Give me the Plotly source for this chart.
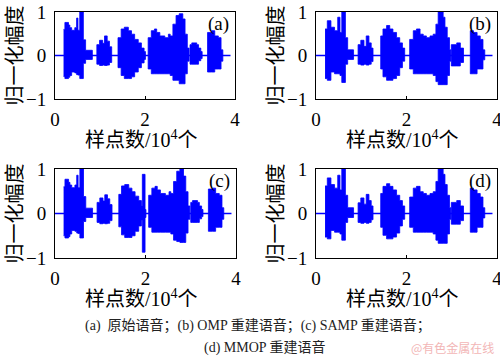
import plotly.graph_objects as go

# ---------------- data (x in units of 10^4 samples, envelope breakpoints) ----------------
x_ticks = [0, 2, 4]
y_ticks = [-1, 0, 1]
y_tick_text = ["\u22121", "0", "1"]
baseline_x = [0.0, 3.9]
baseline_y = [0.0, 0.0]

# (a) original speech
a_x = [0.19, 0.22, 0.30, 0.33, 0.37, 0.44, 0.48, 0.51, 0.55, 0.63, 0.68, 0.83,
       0.93, 0.99, 1.06, 1.10, 1.16, 1.21, 1.26,
       1.40, 1.47, 1.54, 1.63, 1.70, 1.77, 1.85, 1.92, 1.98, 2.01,
       2.07, 2.14, 2.21, 2.26, 2.33, 2.44, 2.52, 2.56, 2.62, 2.69, 2.76, 2.84, 2.89, 2.94, 2.98,
       3.00, 3.04, 3.15, 3.19, 3.24, 3.27,
       3.39, 3.48, 3.55, 3.63, 3.69, 3.73]
a_up = [0.60, 0.76, 0.70, 0.64, 0.58, 0.64, 0.86, 0.58, 1.00, 0.36, 0.12, 0.0,
        0.25, 0.35, 0.28, 0.45, 0.33, 0.20, 0.0,
        0.41, 0.61, 0.65, 0.57, 0.49, 0.37, 0.29, 0.17, 0.09, 0.0,
        0.41, 0.57, 0.61, 0.53, 0.45, 0.41, 0.49, 0.45, 0.72, 0.92, 0.96, 0.84, 0.49, 0.17, 0.0,
        0.25, 0.29, 0.25, 0.17, 0.09, 0.0,
        0.53, 0.57, 0.45, 0.41, 0.13, 0.0]
a_lo = [-0.48, -0.53, -0.50, -0.46, -0.38, -0.40, -0.44, -0.45, -0.53, -0.18, -0.09, 0.0,
        -0.20, -0.23, -0.22, -0.23, -0.22, -0.16, 0.0,
        -0.28, -0.46, -0.53, -0.53, -0.49, -0.38, -0.28, -0.17, -0.09, 0.0,
        -0.31, -0.42, -0.42, -0.42, -0.42, -0.42, -0.42, -0.46, -0.57, -0.57, -0.65, -0.65, -0.42, -0.13, 0.0,
        -0.20, -0.20, -0.20, -0.12, -0.07, 0.0,
        -0.38, -0.38, -0.31, -0.31, -0.13, 0.0]

# (b) OMP reconstruction
b_x = [0.20, 0.25, 0.33, 0.41, 0.48, 0.53, 0.57, 0.65, 0.70, 0.83,
       0.93, 0.99, 1.06, 1.11, 1.17, 1.22, 1.26,
       1.43, 1.48, 1.56, 1.63, 1.70, 1.78, 1.85, 1.91, 1.96,
       2.07, 2.15, 2.22, 2.30, 2.37, 2.44, 2.52, 2.59, 2.65, 2.70, 2.81, 2.85, 2.90, 2.95, 2.98,
       2.99, 3.11, 3.19, 3.26,
       3.41, 3.48, 3.56, 3.63, 3.69, 3.73]
b_up = [0.61, 0.80, 0.65, 0.57, 0.88, 0.53, 1.00, 0.41, 0.13, 0.0,
        0.25, 0.35, 0.21, 0.45, 0.29, 0.17, 0.0,
        0.45, 0.61, 0.69, 0.61, 0.53, 0.41, 0.29, 0.17, 0.0,
        0.37, 0.57, 0.61, 0.49, 0.45, 0.41, 0.45, 0.49, 0.72, 1.00, 0.88, 0.65, 0.41, 0.13, 0.0,
        0.25, 0.29, 0.17, 0.0,
        0.57, 0.53, 0.45, 0.37, 0.13, 0.0]
b_lo = [-0.53, -0.57, -0.38, -0.42, -0.42, -0.46, -0.62, -0.20, -0.09, 0.0,
        -0.20, -0.22, -0.20, -0.22, -0.20, -0.14, 0.0,
        -0.31, -0.49, -0.57, -0.57, -0.53, -0.46, -0.28, -0.13, 0.0,
        -0.31, -0.42, -0.42, -0.42, -0.42, -0.42, -0.42, -0.46, -0.60, -0.67, -0.67, -0.67, -0.46, -0.13, 0.0,
        -0.24, -0.24, -0.16, 0.0,
        -0.42, -0.42, -0.31, -0.31, -0.10, 0.0]

# (c) SAMP reconstruction
c_x = [0.19, 0.22, 0.30, 0.33, 0.37, 0.44, 0.48, 0.51, 0.55, 0.63, 0.68, 0.83,
       0.93, 0.99, 1.06, 1.10, 1.16, 1.21, 1.26,
       1.41, 1.47, 1.54, 1.63, 1.70, 1.77, 1.85, 1.91, 1.93, 1.99, 2.01,
       2.07, 2.14, 2.21, 2.26, 2.33, 2.44, 2.52, 2.56, 2.62, 2.69, 2.76, 2.84, 2.89, 2.94, 2.98,
       3.00, 3.04, 3.15, 3.19, 3.24, 3.27,
       3.39, 3.48, 3.55, 3.63, 3.69, 3.73]
c_up = [0.60, 0.77, 0.70, 0.64, 0.58, 0.64, 0.86, 0.58, 1.00, 0.38, 0.12, 0.0,
        0.25, 0.35, 0.28, 0.42, 0.33, 0.20, 0.0,
        0.43, 0.62, 0.65, 0.57, 0.49, 0.39, 0.29, 0.17, 0.88, 0.09, 0.0,
        0.41, 0.57, 0.61, 0.53, 0.45, 0.41, 0.49, 0.45, 0.72, 0.95, 1.00, 0.84, 0.49, 0.17, 0.0,
        0.25, 0.29, 0.25, 0.17, 0.09, 0.0,
        0.55, 0.57, 0.45, 0.41, 0.13, 0.0]
c_lo = [-0.50, -0.55, -0.52, -0.46, -0.38, -0.40, -0.44, -0.45, -0.55, -0.18, -0.09, 0.0,
        -0.20, -0.23, -0.22, -0.23, -0.22, -0.16, 0.0,
        -0.30, -0.48, -0.54, -0.54, -0.50, -0.40, -0.28, -0.15, -0.87, -0.09, 0.0,
        -0.31, -0.42, -0.42, -0.42, -0.42, -0.42, -0.42, -0.46, -0.60, -0.63, -0.65, -0.65, -0.44, -0.13, 0.0,
        -0.20, -0.20, -0.20, -0.12, -0.07, 0.0,
        -0.40, -0.40, -0.31, -0.31, -0.13, 0.0]

# (d) MMOP reconstruction
d_x = [0.20, 0.25, 0.33, 0.41, 0.48, 0.53, 0.57, 0.65, 0.70, 0.83,
       0.93, 0.99, 1.06, 1.11, 1.17, 1.22, 1.26,
       1.43, 1.48, 1.56, 1.63, 1.70, 1.78, 1.85, 1.91, 1.96,
       2.07, 2.15, 2.22, 2.30, 2.37, 2.44, 2.52, 2.59, 2.65, 2.70, 2.81, 2.85, 2.90, 2.95, 2.98,
       2.99, 3.11, 3.19, 3.26,
       3.41, 3.48, 3.56, 3.63, 3.69, 3.73]
d_up = [0.62, 0.80, 0.65, 0.57, 0.86, 0.53, 1.00, 0.41, 0.13, 0.0,
        0.24, 0.35, 0.21, 0.43, 0.29, 0.17, 0.0,
        0.45, 0.61, 0.67, 0.61, 0.53, 0.41, 0.29, 0.17, 0.0,
        0.37, 0.57, 0.61, 0.49, 0.45, 0.41, 0.45, 0.49, 0.72, 1.00, 0.88, 0.65, 0.41, 0.13, 0.0,
        0.25, 0.29, 0.17, 0.0,
        0.57, 0.53, 0.45, 0.37, 0.13, 0.0]
d_lo = [-0.53, -0.57, -0.38, -0.42, -0.42, -0.46, -0.60, -0.20, -0.09, 0.0,
        -0.20, -0.22, -0.20, -0.22, -0.20, -0.14, 0.0,
        -0.31, -0.49, -0.57, -0.57, -0.53, -0.44, -0.28, -0.13, 0.0,
        -0.31, -0.42, -0.42, -0.42, -0.42, -0.42, -0.42, -0.46, -0.60, -0.67, -0.67, -0.67, -0.46, -0.13, 0.0,
        -0.24, -0.24, -0.16, 0.0,
        -0.42, -0.42, -0.31, -0.31, -0.10, 0.0]

panel_labels = ["(a)", "(b)", "(c)", "(d)"]
x_title = "样点数/10<sup>4</sup>个"
y_title = "归一化幅度"
caption_line1 = "(a)  原始语音；(b) OMP 重建语音；(c) SAMP 重建语音；"
caption_line2 = "(d) MMOP 重建语音"
watermark = "@有色金属在线"

# ---------------- layout / style ----------------
W, H = 500, 359
BLUE = "#0000FF"
SERIF = "Liberation Serif, Noto Sans CJK SC, serif"
CJK = "Noto Sans CJK SC, sans-serif"

# plot boxes in pixels: (left, right, top, bottom)
boxes = [(55, 235, 12, 99), (316, 497, 12, 99), (55, 236, 169, 258), (316, 497, 169, 258)]
series = [(a_x, a_up, a_lo), (b_x, b_up, b_lo), (c_x, c_up, c_lo), (d_x, d_up, d_lo)]

fig = go.Figure()
layout = dict(width=W, height=H, margin=dict(l=0, r=0, t=0, b=0, autoexpand=False),
              paper_bgcolor="white", plot_bgcolor="white", showlegend=False)
annotations = []

for i, ((l, r, t, b), (xs, up, lo)) in enumerate(zip(boxes, series)):
    n = "" if i == 0 else str(i + 1)
    xa, ya = "x" + n, "y" + n
    fig.add_trace(go.Scatter(x=baseline_x, y=baseline_y, mode="lines",
                             line=dict(color=BLUE, width=1.6), xaxis=xa, yaxis=ya, hoverinfo="skip"))
    fig.add_trace(go.Scatter(x=xs, y=lo, mode="lines", line=dict(color=BLUE, width=0.8, shape="hv"),
                             xaxis=xa, yaxis=ya, hoverinfo="skip"))
    fig.add_trace(go.Scatter(x=xs, y=up, mode="lines", line=dict(color=BLUE, width=0.8, shape="hv"),
                             fill="tonexty", fillcolor=BLUE, xaxis=xa, yaxis=ya, hoverinfo="skip"))
    layout["xaxis" + n] = dict(domain=[l / W, r / W], anchor=ya, range=[0, 4], tickvals=x_ticks,
                               ticks="inside", ticklen=3, tickcolor="black", showline=True, mirror=True,
                               linecolor="black", linewidth=1, showgrid=False, zeroline=False,
                               tickfont=dict(family=SERIF, size=19, color="black"),
                               ticklabelstandoff=3, automargin=False, ticklabeloverflow="allow")
    layout["yaxis" + n] = dict(domain=[1 - b / H, 1 - t / H], anchor=xa, range=[-1, 1], tickvals=y_ticks,
                               ticktext=y_tick_text, ticks="", showline=True, mirror=True,
                               linecolor="black", linewidth=1, showgrid=False, zeroline=False,
                               tickfont=dict(family=SERIF, size=19, color="black"),
                               ticklabelstandoff=4, automargin=False, ticklabeloverflow="allow")
    cx = (l + r) / 2 - 4
    annotations.append(dict(text=x_title, x=cx / W, y=1 - (b + 40) / H, xref="paper", yref="paper",
                            xanchor="center", yanchor="middle", showarrow=False,
                            font=dict(family=SERIF, size=20, color="black")))
    annotations.append(dict(text=y_title, x=(l - 42) / W, y=1 - ((t + b) / 2) / H, xref="paper", yref="paper",
                            xanchor="center", yanchor="middle", textangle=-90, showarrow=False,
                            font=dict(family=CJK, size=20, color="black")))
    annotations.append(dict(text=panel_labels[i], x=(r - 4) / W, y=1 - (t + 12) / H, xref="paper", yref="paper",
                            xanchor="right", yanchor="middle", showarrow=False,
                            font=dict(family=SERIF, size=19, color="black")))

annotations.append(dict(text=caption_line1, x=258 / W, y=1 - 325 / H, xref="paper", yref="paper",
                        xanchor="center", yanchor="middle", showarrow=False,
                        font=dict(family=SERIF, size=14, color="#222222")))
annotations.append(dict(text=caption_line2, x=265 / W, y=1 - 347 / H, xref="paper", yref="paper",
                        xanchor="center", yanchor="middle", showarrow=False,
                        font=dict(family=SERIF, size=14, color="#222222")))
annotations.append(dict(text=watermark, x=496 / W, y=1 - 347 / H, xref="paper", yref="paper",
                        xanchor="right", yanchor="middle", showarrow=False,
                        font=dict(family=CJK, size=12, color="#f2b6b6")))

layout["annotations"] = annotations
fig.update_layout(**layout)
fig.write_html("out.html", config={"displayModeBar": False},
               post_script="document.body.style.margin='0px';document.body.style.overflow='hidden';")
